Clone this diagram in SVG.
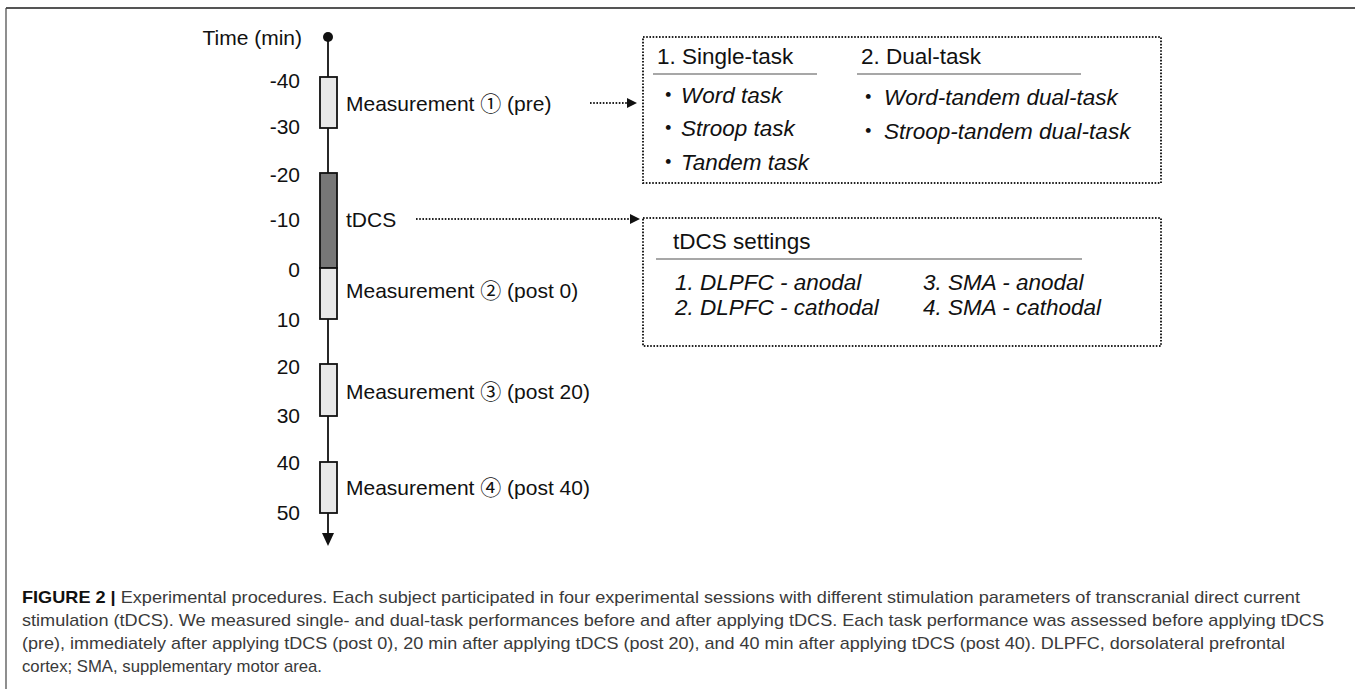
<svg xmlns="http://www.w3.org/2000/svg" width="1355" height="689" viewBox="0 0 1355 689">
<defs>
<style>
text{font-family:"Liberation Sans",Arial,"DejaVu Sans",sans-serif;fill:#111}
.ax{font-size:21px}
.tick{font-size:21px;text-anchor:end}
.bx{font-size:22.5px}
.it{font-style:italic}
.cj{font-family:"Noto Sans CJK JP","DejaVu Sans",sans-serif;font-style:normal}
.seg{stroke:#111;stroke-width:1.8}
.lt{fill:#e8e8e8}
.dk{fill:#777}
.dotbox{fill:none;stroke:#222;stroke-width:2;stroke-dasharray:1.6 1.6}
.dotln{stroke:#222;stroke-width:2;stroke-dasharray:1.6 1.6;fill:none}
.rule{stroke:#8a8a8a;stroke-width:1.5}
.cap{font-size:17px;fill:#3a3a3a}
</style>
</defs>
<rect x="0" y="0" width="1355" height="689" fill="#fff"/>
<g id="frame">
<line x1="6" y1="8" x2="1355" y2="8" stroke="#555" stroke-width="2.2"/>
<line x1="6" y1="8" x2="6" y2="689" stroke="#444" stroke-width="1.2"/>
</g>
<g id="timeline">
<line x1="328" y1="37" x2="328" y2="535" stroke="#111" stroke-width="1.8"/>
<circle cx="328" cy="37" r="5" fill="#111"/>
<path d="M322,533 L334,533 L328,546 Z" fill="#111"/>
<text class="ax" x="302" y="45" text-anchor="end">Time (min)</text>
<text class="tick" x="300" y="88">-40</text>
<text class="tick" x="300" y="134">-30</text>
<text class="tick" x="300" y="182">-20</text>
<text class="tick" x="300" y="227">-10</text>
<text class="tick" x="300" y="277">0</text>
<text class="tick" x="300" y="327">10</text>
<text class="tick" x="300" y="374">20</text>
<text class="tick" x="300" y="423">30</text>
<text class="tick" x="300" y="470">40</text>
<text class="tick" x="300" y="520">50</text>
</g>
<g id="m1">
<rect class="seg lt" x="320" y="77" width="17" height="51"/>
<text class="ax" x="346" y="111">Measurement <tspan class="cj">①</tspan> (pre)</text>
</g>
<g id="tdcs">
<rect class="seg dk" x="320" y="173" width="17" height="95"/>
<text class="ax" x="346" y="227">tDCS</text>
</g>
<g id="m2">
<rect class="seg lt" x="320" y="268" width="17" height="51"/>
<text class="ax" x="346" y="298">Measurement <tspan class="cj">②</tspan> (post 0)</text>
</g>
<g id="m3">
<rect class="seg lt" x="320" y="364" width="17" height="52"/>
<text class="ax" x="346" y="399">Measurement <tspan class="cj">③</tspan> (post 20)</text>
</g>
<g id="m4">
<rect class="seg lt" x="320" y="462" width="17" height="51"/>
<text class="ax" x="346" y="495">Measurement <tspan class="cj">④</tspan> (post 40)</text>
</g>
<g id="connectors">
<line class="dotln" x1="590" y1="103" x2="628" y2="103"/>
<path d="M627,98 L637,103 L627,108 Z" fill="#111"/>
<line class="dotln" x1="416" y1="219" x2="631" y2="219"/>
<path d="M630,214 L640,219 L630,224 Z" fill="#111"/>
</g>
<g id="tasks">
<rect class="dotbox" x="643" y="37" width="518" height="146"/>
<text class="bx" x="657" y="64">1. Single-task</text>
<line class="rule" x1="653" y1="74" x2="817" y2="74"/>
<text class="bx" x="861" y="64">2. Dual-task</text>
<line class="rule" x1="857" y1="74" x2="1081" y2="74"/>
<text class="bx it" x="657" y="103"><tspan class="cj">・</tspan><tspan x="681">Word task</tspan></text>
<text class="bx it" x="657" y="136"><tspan class="cj">・</tspan><tspan x="681">Stroop task</tspan></text>
<text class="bx it" x="657" y="170"><tspan class="cj">・</tspan><tspan x="681">Tandem task</tspan></text>
<text class="bx it" x="857" y="105"><tspan class="cj">・</tspan><tspan x="884">Word-tandem dual-task</tspan></text>
<text class="bx it" x="857" y="139"><tspan class="cj">・</tspan><tspan x="884">Stroop-tandem dual-task</tspan></text>
</g>
<g id="settings">
<rect class="dotbox" x="643" y="218" width="518" height="128"/>
<text class="bx" x="673" y="249">tDCS settings</text>
<line class="rule" x1="656" y1="259" x2="1082" y2="259"/>
<text class="bx it" x="675" y="290">1. DLPFC - anodal</text>
<text class="bx it" x="675" y="315">2. DLPFC - cathodal</text>
<text class="bx it" x="923" y="290">3. SMA - anodal</text>
<text class="bx it" x="923" y="315">4. SMA - cathodal</text>
</g>
<g id="caption">
<text class="cap" x="22" y="603" textLength="1278" lengthAdjust="spacingAndGlyphs"><tspan font-weight="bold" fill="#111">FIGURE 2 |</tspan> Experimental procedures. Each subject participated in four experimental sessions with different stimulation parameters of transcranial direct current</text>
<text class="cap" x="22" y="626" textLength="1302" lengthAdjust="spacingAndGlyphs">stimulation (tDCS). We measured single- and dual-task performances before and after applying tDCS. Each task performance was assessed before applying tDCS</text>
<text class="cap" x="22" y="649" textLength="1263" lengthAdjust="spacingAndGlyphs">(pre), immediately after applying tDCS (post 0), 20 min after applying tDCS (post 20), and 40 min after applying tDCS (post 40). DLPFC, dorsolateral prefrontal</text>
<text class="cap" x="22" y="672" textLength="300" lengthAdjust="spacingAndGlyphs">cortex; SMA, supplementary motor area.</text>
</g>
</svg>
